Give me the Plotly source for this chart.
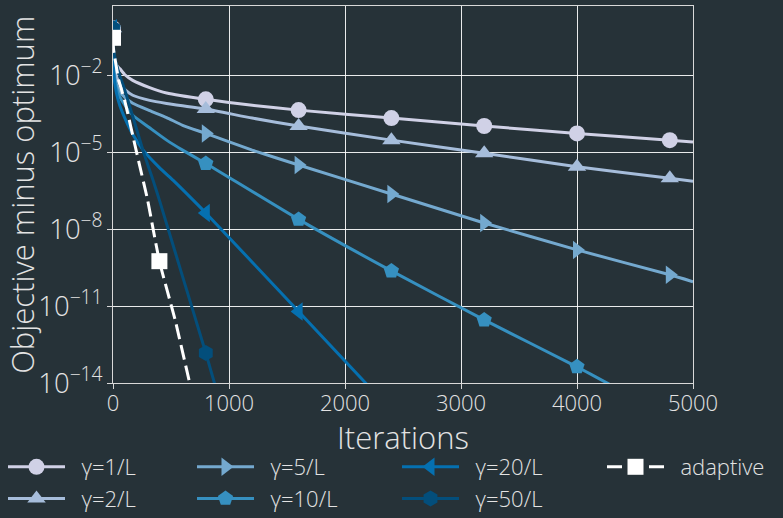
import numpy as np
import plotly.graph_objects as go

# Objective gap (log10) of gradient descent for several step sizes, plus an adaptive rule
it_1 = [0, 3, 10, 30, 60, 100, 170, 316, 462, 800, 1200, 1600, 2400, 3200, 4000, 4800, 5000]
lg_1 = [-0.17, -0.9, -1.3, -1.6, -1.75, -1.97, -2.2, -2.48, -2.69, -2.94, -3.17, -3.36, -3.67, -3.98, -4.27, -4.53, -4.60]

it_2 = [0, 3, 10, 30, 60, 100, 170, 316, 462, 800, 1200, 1600, 2400, 3200, 4000, 4800, 5000]
lg_2 = [-0.17, -1.1, -1.6, -2.05, -2.35, -2.55, -2.78, -2.98, -3.1, -3.32, -3.67, -3.98, -4.53, -5.04, -5.57, -6.02, -6.13]

it_5 = [0, 3, 10, 30, 60, 100, 170, 316, 462, 600, 800, 1200, 1600, 2400, 3200, 4000, 4800, 5000]
lg_5 = [-0.17, -1.3, -1.9, -2.35, -2.65, -2.85, -3.09, -3.38, -3.65, -3.95, -4.27, -4.92, -5.50, -6.63, -7.76, -8.81, -9.78, -10.05]

it_10 = [0, 3, 10, 30, 60, 100, 170, 316, 462, 600, 800, 1600, 2400, 3200, 4000, 4300]
lg_10 = [-0.17, -1.4, -2.0, -2.5, -2.85, -3.15, -3.56, -4.05, -4.53, -4.92, -5.44, -7.62, -9.63, -11.54, -13.37, -14.1]

it_20 = [0, 3, 10, 30, 60, 100, 170, 265, 400, 517, 689, 800, 1600, 2250]
lg_20 = [-0.17, -1.5, -2.1, -2.7, -3.2, -3.65, -4.3, -4.95, -5.6, -6.09, -6.86, -7.37, -11.21, -14.35]

it_50 = [0, 3, 10, 50, 100, 170, 263, 345, 402, 600, 800, 900]
lg_50 = [-0.17, -0.8, -1.15, -1.9, -2.55, -3.6, -5.0, -6.09, -6.9, -9.85, -12.83, -14.4]

it_ad = [0, 5, 15, 50, 100, 203, 298, 400, 536, 658, 700]
lg_ad = [-0.54, -1.0, -1.3, -2.2, -2.97, -5.0, -6.86, -9.25, -11.55, -13.94, -14.75]

names = ["γ=1/L", "γ=2/L", "γ=5/L", "γ=10/L", "γ=20/L", "γ=50/L", "adaptive"]
colors = ["#d0d1e6", "#a6bddb", "#74a9cf", "#3690c0", "#0570b0", "#034e7b", "#ffffff"]
symbols = ["circle", "triangle-up", "triangle-right", "pentagon", "triangle-left", "hexagon", "square"]
marker_every = [800, 800, 800, 800, 800, 800, 400]
legend_slot = ["legend", "legend", "legend2", "legend2", "legend3", "legend3", "legend4"]

x_title = "Iterations"
y_title = "Objective minus optimum"

series = [(it_1, lg_1), (it_2, lg_2), (it_5, lg_5), (it_10, lg_10),
          (it_20, lg_20), (it_50, lg_50), (it_ad, lg_ad)]

BG = "#263238"
TXT = "#e3e3e3"
FONT = "Open Sans"

fig = go.Figure()
for (its, lgs), name, col, sym, step, leg in zip(series, names, colors, symbols,
                                                  marker_every, legend_slot):
    its = np.array(its)
    vals = 10.0 ** np.array(lgs)
    dash = "15px,6px" if name == "adaptive" else "solid"
    fig.add_trace(go.Scatter(
        x=its, y=vals, mode="lines", line=dict(color=col, width=3, dash=dash,
                                               shape="spline", smoothing=0.5),
        showlegend=False, hoverinfo="skip"))
    m = its % step == 0
    fig.add_trace(go.Scatter(
        x=its[m], y=vals[m], mode="markers",
        marker=dict(color=col, symbol=sym, size=16), showlegend=False))
    # legend entry (line + marker sample)
    fig.add_trace(go.Scatter(
        x=[None], y=[None], mode="lines+markers", name="\u00a0\u00a0" + name,
        line=dict(color=col, width=3, dash=dash),
        marker=dict(color=col, symbol=sym, size=16), legend=leg))

axis_common = dict(
    showline=True, linecolor="#d8d8d8", linewidth=1, mirror=True,
    showgrid=True, gridcolor="rgba(255,255,255,0.9)", gridwidth=1,
    ticks="outside", ticklen=5, tickcolor="#d8d8d8",
    tickfont=dict(family=FONT, size=22, color=TXT, weight=300),
    zeroline=False,
)

fig.update_xaxes(range=[0, 5000], dtick=1000, tick0=0, ticklabelstandoff=-4, **axis_common)
fig.update_yaxes(type="log", range=[-14, 0.70], dtick=3, tick0=-14,
                 exponentformat="power", showexponent="all", **axis_common)

title_font = dict(family=FONT, size=31, color=TXT, weight=300)
fig.add_annotation(text=x_title, xref="paper", yref="paper", x=0.5, y=-0.082,
                   xanchor="center", yanchor="top", showarrow=False, font=title_font)
fig.add_annotation(text=y_title, xref="paper", yref="paper", x=-0.158, y=0.5,
                   xanchor="center", yanchor="middle", textangle=-90, showarrow=False,
                   font=title_font)

leg_font = dict(family=FONT, size=22, color=TXT, weight=300)
leg_common = dict(orientation="v", xref="container", yref="container", xanchor="left",
                  yanchor="top", bgcolor="rgba(0,0,0,0)", font=leg_font, itemwidth=57,
                  tracegroupgap=0)
ytop = 1 - 446 / 518
fig.update_layout(
    width=783, height=518,
    margin=dict(l=113, r=90, t=6, b=135, autoexpand=False),
    paper_bgcolor=BG, plot_bgcolor=BG,
    font=dict(family=FONT, color=TXT, weight=300),
    legend=dict(x=3 / 783, y=ytop, **leg_common),
    legend2=dict(x=192 / 783, y=ytop, **leg_common),
    legend3=dict(x=397 / 783, y=ytop, **leg_common),
    legend4=dict(x=602 / 783, y=ytop, **leg_common),
)

fig.write_html("out.html")
